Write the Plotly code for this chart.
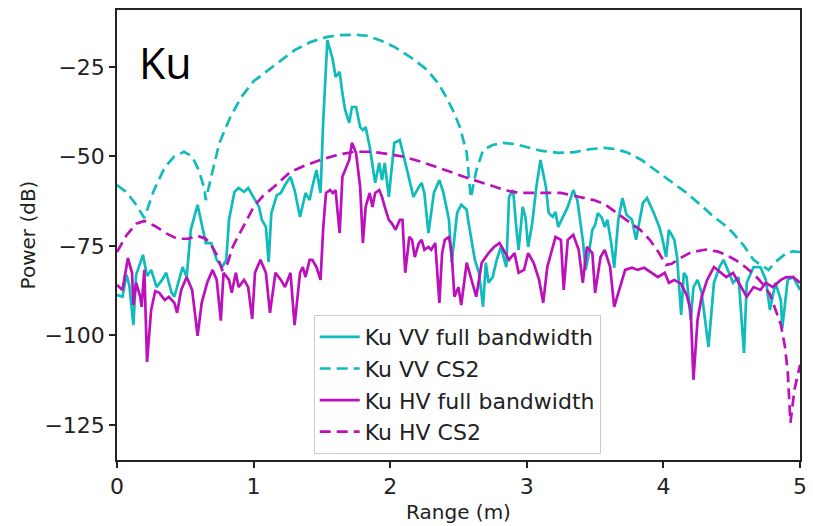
import plotly.graph_objects as go

# ---------------- data (Range in m, Power in dB) ----------------
vv_full_x = [0.00, 0.04, 0.07, 0.09, 0.12, 0.14, 0.19, 0.22, 0.25, 0.29,
             0.33, 0.36, 0.40, 0.42, 0.46, 0.48, 0.51, 0.54, 0.59, 0.62,
             0.65, 0.69, 0.73, 0.77, 0.80, 0.82, 0.86, 0.89, 0.93, 0.96,
             1.00, 1.04, 1.06, 1.09, 1.11, 1.13, 1.17, 1.20, 1.23, 1.27,
             1.30, 1.34, 1.38, 1.41, 1.43, 1.46, 1.49, 1.51, 1.54, 1.58,
             1.60, 1.63, 1.65, 1.67, 1.70, 1.72, 1.75, 1.78, 1.80, 1.82,
             1.85, 1.87, 1.89, 1.92, 1.94, 1.96, 1.99, 2.03, 2.07, 2.10,
             2.14, 2.17, 2.21, 2.23, 2.25, 2.28, 2.32, 2.36, 2.39, 2.43,
             2.45, 2.49, 2.52, 2.56, 2.57, 2.62, 2.65, 2.68, 2.70, 2.72,
             2.75, 2.78, 2.81, 2.85, 2.87, 2.90, 2.92, 2.94, 2.97, 2.99,
             3.01, 3.04, 3.07, 3.10, 3.14, 3.16, 3.19, 3.21, 3.23, 3.26,
             3.30, 3.34, 3.37, 3.41, 3.43, 3.45, 3.48, 3.50, 3.52, 3.55,
             3.57, 3.59, 3.62, 3.64, 3.67, 3.70, 3.73, 3.77, 3.80, 3.85,
             3.88, 3.93, 3.97, 3.99, 4.02, 4.04, 4.08, 4.10, 4.13, 4.15,
             4.17, 4.20, 4.22, 4.25, 4.28, 4.33, 4.37, 4.41, 4.44, 4.48,
             4.51, 4.55, 4.59, 4.61, 4.66, 4.71, 4.75, 4.78, 4.82, 4.86,
             4.87, 4.91, 4.95, 4.99, 5.00]
vv_full_y = [-88.7, -89.2, -83.1, -85.9, -97.1, -83.1, -77.5, -83.4, -81.7, -86.5,
             -84.5, -82.5, -88.1, -89.2, -83.7, -80.9, -83.7, -70.5, -63.5, -68.6,
             -74.2, -74.2, -78.9, -80.9, -78.9, -67.7, -59.9, -58.8, -59.9, -58.8,
             -61.3, -64.1, -67.7, -69.7, -79.5, -65.8, -60.8, -60.2, -58.0, -55.7,
             -59.4, -66.9, -60.2, -62.2, -58.5, -53.8, -60.2, -39.8, -17.5, -23.0,
             -27.8, -26.4, -32.3, -37.0, -40.6, -36.2, -36.2, -41.8, -42.6, -41.8,
             -47.3, -51.8, -57.4, -51.8, -56.6, -51.8, -61.3, -46.2, -45.4, -50.1,
             -56.6, -61.3, -58.5, -57.4, -60.2, -71.4, -60.2, -56.6, -60.2, -67.7,
             -79.7, -65.8, -63.5, -64.9, -67.7, -78.9, -82.5, -92.0, -79.7, -85.3,
             -83.7, -78.9, -75.3, -80.9, -61.3, -59.4, -68.6, -76.1, -64.1, -66.9,
             -75.3, -68.6, -58.5, -51.0, -58.5, -65.8, -66.9, -65.5, -69.7, -67.2,
             -64.1, -59.4, -62.2, -73.3, -81.7, -78.1, -70.5, -69.1, -65.8, -67.2,
             -69.7, -67.7, -74.7, -81.1, -67.7, -61.6, -66.3, -67.7, -73.3, -63.0,
             -61.6, -65.8, -69.7, -72.5, -78.1, -70.5, -73.3, -78.1, -94.3, -82.5,
             -83.7, -95.7, -86.5, -84.5, -88.1, -103.2, -85.3, -80.9, -78.9, -82.5,
             -85.3, -83.7, -104.9, -85.3, -80.9, -80.9, -84.5, -92.9, -85.3, -90.1,
             -98.0, -84.5, -83.7, -86.5, -87.3]

vv_cs2_x = [0.00, 0.07, 0.14, 0.20, 0.27, 0.35, 0.42, 0.49, 0.55, 0.60,
            0.64, 0.65, 0.70, 0.75, 0.83, 0.91, 1.00, 1.11, 1.20, 1.30,
            1.42, 1.54, 1.64, 1.74, 1.83, 1.93, 2.03, 2.15, 2.27, 2.35,
            2.41, 2.47, 2.51, 2.56, 2.59, 2.63, 2.68, 2.75, 2.83, 2.92,
            2.99, 3.10, 3.23, 3.35, 3.46, 3.57, 3.66, 3.74, 3.84, 3.94,
            4.05, 4.17, 4.27, 4.37, 4.45, 4.51, 4.59, 4.66, 4.72, 4.77,
            4.82, 4.90, 4.95, 5.00]
vv_cs2_y = [-58.0, -60.0, -63.5, -67.2, -59.5, -53.0, -50.0, -48.7, -50.0, -54.0,
            -59.0, -62.2, -54.0, -46.2, -39.0, -33.4, -29.0, -25.8, -23.0, -20.3,
            -18.0, -16.6, -16.1, -16.0, -16.3, -17.6, -19.4, -22.3, -25.8, -29.5,
            -33.4, -38.0, -41.8, -49.0, -61.6, -54.0, -48.2, -46.8, -46.2, -46.6,
            -47.3, -48.4, -49.0, -48.8, -48.0, -47.6, -48.0, -49.0, -51.0, -53.8,
            -56.8, -60.2, -63.5, -66.9, -69.2, -71.4, -75.0, -78.9, -80.5, -81.7,
            -79.5, -77.0, -76.5, -76.7]

hv_full_x = [0.00, 0.04, 0.08, 0.11, 0.12, 0.14, 0.17, 0.18, 0.20, 0.22,
             0.25, 0.28, 0.31, 0.35, 0.38, 0.42, 0.44, 0.47, 0.51, 0.53,
             0.55, 0.59, 0.62, 0.66, 0.70, 0.73, 0.76, 0.78, 0.82, 0.84,
             0.87, 0.89, 0.93, 0.96, 0.99, 1.01, 1.05, 1.09, 1.12, 1.16,
             1.20, 1.23, 1.27, 1.30, 1.34, 1.36, 1.38, 1.41, 1.43, 1.46,
             1.49, 1.51, 1.53, 1.56, 1.58, 1.60, 1.63, 1.65, 1.67, 1.70,
             1.72, 1.75, 1.78, 1.80, 1.82, 1.85, 1.87, 1.89, 1.92, 1.94,
             1.96, 1.99, 2.01, 2.04, 2.07, 2.09, 2.11, 2.14, 2.16, 2.18,
             2.21, 2.23, 2.25, 2.28, 2.30, 2.33, 2.36, 2.38, 2.40, 2.43,
             2.45, 2.47, 2.50, 2.52, 2.56, 2.59, 2.63, 2.67, 2.72, 2.76,
             2.80, 2.83, 2.87, 2.91, 2.94, 2.98, 3.01, 3.05, 3.09, 3.12,
             3.15, 3.19, 3.21, 3.25, 3.27, 3.30, 3.34, 3.38, 3.41, 3.44,
             3.48, 3.50, 3.54, 3.57, 3.61, 3.64, 3.68, 3.72, 3.77, 3.81,
             3.86, 3.91, 3.96, 4.01, 4.04, 4.08, 4.13, 4.17, 4.20, 4.22,
             4.25, 4.28, 4.32, 4.37, 4.42, 4.46, 4.51, 4.57, 4.61, 4.66,
             4.71, 4.75, 4.80, 4.86, 4.90, 4.95, 5.00]
hv_full_y = [-85.9, -87.3, -78.4, -82.5, -91.5, -85.3, -89.2, -92.0, -81.7, -107.4,
             -92.9, -87.6, -88.1, -90.1, -89.2, -90.9, -93.7, -87.3, -83.7, -85.3,
             -87.3, -100.1, -90.9, -85.3, -81.7, -84.5, -95.9, -82.5, -84.5, -88.1,
             -82.5, -86.5, -84.5, -86.5, -95.4, -82.5, -78.9, -82.5, -93.7, -82.5,
             -84.5, -86.5, -82.5, -97.1, -82.5, -80.9, -83.7, -78.9, -78.9, -80.9,
             -84.5, -69.7, -60.2, -59.4, -60.2, -59.4, -71.4, -55.7, -53.8, -51.0,
             -46.2, -49.0, -58.5, -74.2, -64.1, -60.2, -64.1, -60.2, -59.4, -61.3,
             -64.1, -67.7, -68.6, -70.5, -67.7, -67.7, -82.5, -72.5, -73.3, -78.1,
             -74.2, -73.3, -76.1, -75.3, -76.1, -74.2, -90.9, -77.0, -73.3, -72.5,
             -77.0, -89.2, -86.5, -91.5, -79.7, -83.7, -89.2, -79.7, -77.0, -75.3,
             -74.2, -76.1, -78.9, -77.0, -82.5, -81.7, -77.0, -79.7, -84.5, -90.9,
             -80.9, -75.3, -72.5, -73.3, -87.3, -73.3, -71.9, -76.1, -85.3, -75.3,
             -77.0, -88.1, -78.1, -76.1, -80.9, -92.0, -86.5, -81.7, -81.1, -81.7,
             -81.1, -82.5, -83.7, -82.5, -85.3, -84.5, -85.6, -88.7, -92.9, -112.4,
             -95.7, -89.2, -84.5, -80.9, -82.5, -83.7, -82.5, -86.5, -89.2, -86.5,
             -87.3, -85.3, -86.5, -84.5, -83.7, -83.7, -85.3]

hv_cs2_x = [0.00, 0.07, 0.14, 0.20, 0.28, 0.36, 0.44, 0.52, 0.59, 0.65,
            0.69, 0.73, 0.77, 0.80, 0.85, 0.91, 1.00, 1.07, 1.15, 1.27,
            1.38, 1.49, 1.62, 1.74, 1.86, 1.98, 2.10, 2.22, 2.34, 2.44,
            2.54, 2.65, 2.76, 2.85, 2.94, 3.09, 3.25, 3.37, 3.49, 3.57,
            3.63, 3.72, 3.83, 3.90, 3.96, 4.02, 4.06, 4.12, 4.20, 4.31,
            4.40, 4.46, 4.53, 4.60, 4.66, 4.72, 4.78, 4.82, 4.86, 4.89,
            4.91, 4.93, 4.96, 4.99, 5.00]
hv_cs2_y = [-76.7, -72.0, -68.8, -68.0, -69.5, -71.5, -73.0, -73.0, -72.2, -73.0,
            -74.7, -77.5, -81.7, -80.9, -75.0, -70.5, -64.1, -61.0, -58.5, -54.3,
            -52.5, -51.0, -49.5, -48.7, -48.7, -49.3, -50.1, -51.4, -52.9, -54.3,
            -55.7, -57.1, -58.5, -59.5, -60.2, -60.3, -60.2, -61.2, -62.2, -63.3,
            -64.9, -67.5, -70.5, -73.3, -76.5, -80.3, -80.0, -78.5, -76.8, -76.0,
            -76.6, -77.5, -79.0, -80.9, -82.8, -85.3, -88.5, -92.9, -97.0, -103.2,
            -110.0, -124.4, -115.0, -110.0, -108.2]

series_names = ["Ku VV full bandwidth", "Ku VV CS2", "Ku HV full bandwidth", "Ku HV CS2"]
x_ticks = [0, 1, 2, 3, 4, 5]
y_ticks = [-125, -100, -75, -50, -25]

# ---------------- styling ----------------
CYAN = "#10bbbb"
MAGENTA = "#bb10bb"
FONT = "DejaVu Sans"
DASH = "11px,6px"
LW = 2.7

fig = go.Figure()
fig.add_trace(go.Scatter(x=vv_full_x, y=vv_full_y, mode="lines", name=series_names[0],
                         legendgroup="g1", line=dict(color=CYAN, width=LW)))
fig.add_trace(go.Scatter(x=vv_cs2_x, y=vv_cs2_y, mode="lines", name=series_names[1],
                         legendgroup="g2", line=dict(color=CYAN, width=LW, dash=DASH)))
fig.add_trace(go.Scatter(x=hv_full_x, y=hv_full_y, mode="lines", name=series_names[2],
                         legendgroup="g3", line=dict(color=MAGENTA, width=LW)))
fig.add_trace(go.Scatter(x=hv_cs2_x, y=hv_cs2_y, mode="lines", name=series_names[3],
                         legendgroup="g4", line=dict(color=MAGENTA, width=LW, dash=DASH)))

axis_common = dict(
    showgrid=False, zeroline=False, showline=True, linecolor="#222222", linewidth=1.5,
    mirror=True, ticks="outside", ticklen=6, tickwidth=1.5, tickcolor="#222222",
    tickfont=dict(family=FONT, size=22, color="#222222"),
)

fig.update_layout(
    width=813, height=526,
    margin=dict(l=117, r=6, t=10, b=66),
    paper_bgcolor="white", plot_bgcolor="white",
    font=dict(family=FONT, color="#222222"),
    xaxis=dict(range=[0, 5], tickvals=x_ticks, ticktext=[str(v) for v in x_ticks],
               title=dict(text="Range (m)", font=dict(family=FONT, size=20, color="#222222"), standoff=7),
               **axis_common),
    yaxis=dict(range=[-134.8, -9.1], tickvals=y_ticks,
               title=dict(text="Power (dB)", font=dict(family=FONT, size=20, color="#222222"), standoff=3),
               **axis_common),
    legend=dict(x=0.288, y=0.322, xanchor="left", yanchor="top",
                bgcolor="rgba(255,255,255,0.85)", bordercolor="#cccccc", borderwidth=1,
                font=dict(family=FONT, size=22, color="#222222"),
                tracegroupgap=0, itemwidth=40, traceorder="normal"),
    showlegend=True,
    annotations=[dict(text="Ku", x=0.029, y=0.884, xref="paper", yref="paper",
                      xanchor="left", yanchor="middle", showarrow=False,
                      font=dict(family="Open Sans", size=43, color="black"))],
)

fig.write_html("out.html")
